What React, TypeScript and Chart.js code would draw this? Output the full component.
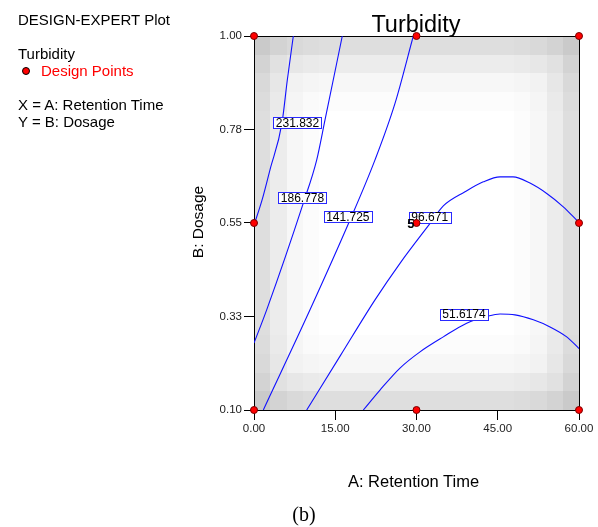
import React, { useEffect, useRef } from "react";
import { Chart, registerables } from "chart.js";

Chart.register(...registerables);

// ---- axis ticks ----
const xTickValues = [0, 15, 30, 45, 60];
const xTickLabels = ["0.00", "15.00", "30.00", "45.00", "60.00"];
const yTickValues = [0.1, 0.325, 0.55, 0.775, 1.0];
const yTickLabels = ["0.10", "0.33", "0.55", "0.78", "1.00"];

// ---- design points ----
const designX = [0, 0, 0, 30, 30, 30, 60, 60, 60];
const designY = [0.1, 0.55, 1.0, 0.1, 0.55, 1.0, 0.1, 0.55, 1.0];
const centerReplicates = "5";

// ---- contour levels & lines (A: Retention Time, B: Dosage) ----
const contourLevels = ["231.832", "186.778", "141.725", "96.671", "51.6174"];
const contour231 = [
  { x: 0, y: 0.545 },
  { x: 1.48, y: 0.605 },
  { x: 2.95, y: 0.678 },
  { x: 5.17, y: 0.791 },
  { x: 6.15, y: 0.894 },
  { x: 7.26, y: 1.0 },
];
const contour186 = [
  { x: 0, y: 0.261 },
  { x: 2.34, y: 0.341 },
  { x: 9.1, y: 0.598 },
  { x: 11.58, y: 0.702 },
  { x: 13.11, y: 0.798 },
  { x: 16.3, y: 1.0 },
];
const contour141 = [
  { x: 1.72, y: 0.1 },
  { x: 10.34, y: 0.341 },
  { x: 17.72, y: 0.557 },
  { x: 22.34, y: 0.702 },
  { x: 26.03, y: 0.838 },
  { x: 29.41, y: 1.0 },
];
const contour96 = [
  { x: 9.73, y: 0.1 },
  { x: 16.0, y: 0.232 },
  { x: 22.34, y: 0.365 },
  { x: 26.95, y: 0.453 },
  { x: 32.68, y: 0.552 },
  { x: 34.95, y: 0.591 },
  { x: 38.95, y: 0.625 },
  { x: 42.33, y: 0.649 },
  { x: 45.42, y: 0.661 },
  { x: 47.82, y: 0.661 },
  { x: 50.95, y: 0.646 },
  { x: 54.04, y: 0.621 },
  { x: 57.1, y: 0.589 },
  { x: 60, y: 0.551 },
];
const contour51 = [
  { x: 20.18, y: 0.1 },
  { x: 23.26, y: 0.148 },
  { x: 26.95, y: 0.201 },
  { x: 30.65, y: 0.24 },
  { x: 34.95, y: 0.276 },
  { x: 39.26, y: 0.309 },
  { x: 42.96, y: 0.325 },
  { x: 45.42, y: 0.331 },
  { x: 48.18, y: 0.329 },
  { x: 51.57, y: 0.317 },
  { x: 54.65, y: 0.3 },
  { x: 57.73, y: 0.276 },
  { x: 60, y: 0.248 },
];
const contourLines = [contour231, contour186, contour141, contour96, contour51];
const contourLabelX = [8.03, 8.95, 17.32, 32.44, 38.77];
const contourLabelY = [0.791, 0.611, 0.566, 0.564, 0.331];

// ---- standard-error shading profile (darkness per grid cell from edge) ----
const shadeProfile = [33, 19, 8, 3, 0, 0, 0, 0, 0, 0, 0, 0, 0, 0, 0, 0, 3, 8, 19, 33];

const SANS = "'Liberation Sans', Arial, sans-serif";

export default function App() {
  const ref = useRef<HTMLCanvasElement>(null);

  useEffect(() => {
    const canvas = ref.current;
    if (!canvas) return;

    const shadePlugin = {
      id: "shade",
      beforeDraw(chart: any) {
        const { ctx, chartArea, scales } = chart;
        const xs = scales.x;
        const ys = scales.y;
        const n = shadeProfile.length;
        ctx.save();
        for (let i = 0; i < n; i++) {
          const xa = Math.round(xs.getPixelForValue(xs.min + ((xs.max - xs.min) * i) / n));
          const xb = Math.round(xs.getPixelForValue(xs.min + ((xs.max - xs.min) * (i + 1)) / n));
          for (let j = 0; j < n; j++) {
            const ya = Math.round(ys.getPixelForValue(ys.min + ((ys.max - ys.min) * (j + 1)) / n));
            const yb = Math.round(ys.getPixelForValue(ys.min + ((ys.max - ys.min) * j) / n));
            const a = shadeProfile[i];
            const b = shadeProfile[j];
            const d = Math.max(a, b) + 0.6 * Math.min(a, b);
            const g = Math.max(0, Math.round(255 - d));
            ctx.fillStyle = `rgb(${g},${g},${g})`;
            ctx.fillRect(xa, ya, xb - xa, yb - ya);
          }
        }
        // frame top & right
        ctx.strokeStyle = "#000";
        ctx.lineWidth = 1;
        ctx.beginPath();
        ctx.moveTo(chartArea.left, chartArea.top + 0.5);
        ctx.lineTo(chartArea.right + 0.5, chartArea.top + 0.5);
        ctx.lineTo(chartArea.right + 0.5, chartArea.bottom);
        ctx.stroke();
        ctx.restore();
      },
    };

    const labelPlugin = {
      id: "contourLabels",
      beforeDatasetDraw(chart: any, args: any) {
        if (args.index !== 0) return;
        const { ctx, scales } = chart;
        ctx.save();
        ctx.font = `12px ${SANS}`;
        ctx.textAlign = "center";
        ctx.textBaseline = "middle";
        contourLevels.forEach((lab, k) => {
          const cx = scales.x.getPixelForValue(contourLabelX[k]);
          const cy = scales.y.getPixelForValue(contourLabelY[k]);
          const w = Math.round(ctx.measureText(lab).width + 5);
          const h = 11;
          const x0 = Math.round(cx - w / 2) + 0.5;
          const y0 = Math.round(cy - h / 2) + 0.5;
          ctx.fillStyle = "#fff";
          ctx.fillRect(x0, y0, w, h);
          ctx.strokeStyle = "#2a2aff";
          ctx.lineWidth = 1;
          ctx.strokeRect(x0, y0, w, h);
          ctx.fillStyle = "#000";
          ctx.fillText(lab, cx, cy + 1);
        });
        ctx.restore();
      },
      afterDatasetsDraw(chart: any) {
        const { ctx, scales } = chart;
        ctx.save();
        ctx.font = `bold 13px ${SANS}`;
        ctx.textAlign = "right";
        ctx.textBaseline = "middle";
        ctx.fillStyle = "#000";
        const px = scales.x.getPixelForValue(designX[4]);
        const py = scales.y.getPixelForValue(designY[4]);
        ctx.fillText(centerReplicates, px - 2, py + 1);
        ctx.restore();
      },
    };

    const datasets: any[] = [
      {
        label: "Design Points",
        data: designX.map((x, i) => ({ x, y: designY[i] })),
        showLine: false,
        pointRadius: 3.5,
        pointHoverRadius: 3.5,
        backgroundColor: "#ff0000",
        borderColor: "#7a0000",
        borderWidth: 1,
        clip: false,
      },
      ...contourLines.map((pts, k) => ({
        label: contourLevels[k],
        data: pts,
        showLine: true,
        pointRadius: 0,
        borderColor: "#1010ff",
        borderWidth: 1.1,
        cubicInterpolationMode: "monotone",
        fill: false,
      })),
    ];

    const chart = new Chart(canvas, {
      type: "scatter",
      data: { datasets },
      options: {
        responsive: false,
        maintainAspectRatio: false,
        animation: false,
        events: [],
        layout: { padding: { left: 0, top: 36, right: 19, bottom: 0 } },
        plugins: { legend: { display: false }, tooltip: { enabled: false }, title: { display: false } },
        scales: {
          x: {
            type: "linear",
            min: 0,
            max: 60,
            afterBuildTicks: (s: any) => {
              s.ticks = xTickValues.map((v) => ({ value: v }));
            },
            afterFit: (s: any) => {
              s.height = 117;
            },
            ticks: {
              callback: (_v: any, i: number) => xTickLabels[i],
              font: { family: SANS, size: 11.5 },
              color: "#222",
              padding: 2,
              maxRotation: 0,
              autoSkip: false,
            },
            grid: { drawOnChartArea: false, drawTicks: true, tickLength: 10, color: "#000", lineWidth: 1 },
            border: { display: true, color: "#000", width: 1 },
          },
          y: {
            type: "linear",
            min: 0.1,
            max: 1.0,
            afterBuildTicks: (s: any) => {
              s.ticks = yTickValues.map((v) => ({ value: v }));
            },
            afterFit: (s: any) => {
              s.width = 254;
            },
            ticks: {
              callback: (_v: any, i: number) => yTickLabels[i],
              font: { family: SANS, size: 11.5 },
              color: "#222",
              padding: 2,
              autoSkip: false,
            },
            grid: { drawOnChartArea: false, drawTicks: true, tickLength: 10, color: "#000", lineWidth: 1 },
            border: { display: true, color: "#000", width: 1 },
          },
        },
      } as any,
      plugins: [shadePlugin, labelPlugin],
    });

    return () => chart.destroy();
  }, []);

  const line = (top: number, left: number, text: string, color = "#000") => (
    <div
      style={{
        position: "absolute",
        top,
        left,
        fontFamily: SANS,
        fontSize: 15,
        lineHeight: "18px",
        whiteSpace: "nowrap",
        color,
      }}
    >
      {text}
    </div>
  );

  return (
    <div style={{ position: "absolute", left: 0, top: 0, width: 598, height: 527, background: "#fff" }}>
      <canvas ref={ref} width={598} height={527} style={{ position: "absolute", left: 0, top: 0, width: 598, height: 527 }} />
      {line(11, 18, "DESIGN-EXPERT Plot")}
      {line(45, 18, "Turbidity")}
      <div
        style={{
          position: "absolute",
          left: 22,
          top: 66.5,
          width: 6,
          height: 6,
          borderRadius: "50%",
          background: "#ff0000",
          border: "1.5px solid #000",
        }}
      />
      {line(62, 41, "Design Points", "#ff0000")}
      {line(96, 18, "X = A: Retention Time")}
      {line(113, 18, "Y = B: Dosage")}
      <div
        style={{
          position: "absolute",
          left: 316,
          top: 9.6,
          width: 200,
          textAlign: "center",
          fontFamily: SANS,
          fontSize: 23.5,
          lineHeight: "28px",
          whiteSpace: "nowrap",
        }}
      >
        Turbidity
      </div>
      <div
        style={{
          position: "absolute",
          left: 313.5,
          top: 471,
          width: 200,
          textAlign: "center",
          fontFamily: SANS,
          fontSize: 16.5,
          lineHeight: "20px",
          whiteSpace: "nowrap",
        }}
      >
        A: Retention Time
      </div>
      <div
        style={{
          position: "absolute",
          left: 197.8 - 60,
          top: 222 - 10,
          width: 120,
          height: 20,
          textAlign: "center",
          fontFamily: SANS,
          fontSize: 15.5,
          lineHeight: "20px",
          whiteSpace: "nowrap",
          transform: "rotate(-90deg)",
          transformOrigin: "center",
        }}
      >
        B: Dosage
      </div>
      <div
        style={{
          position: "absolute",
          left: 264,
          top: 502,
          width: 80,
          textAlign: "center",
          fontFamily: "'Liberation Serif', 'Times New Roman', serif",
          fontSize: 20,
          lineHeight: "24px",
          whiteSpace: "nowrap",
        }}
      >
        (b)
      </div>
    </div>
  );
}
